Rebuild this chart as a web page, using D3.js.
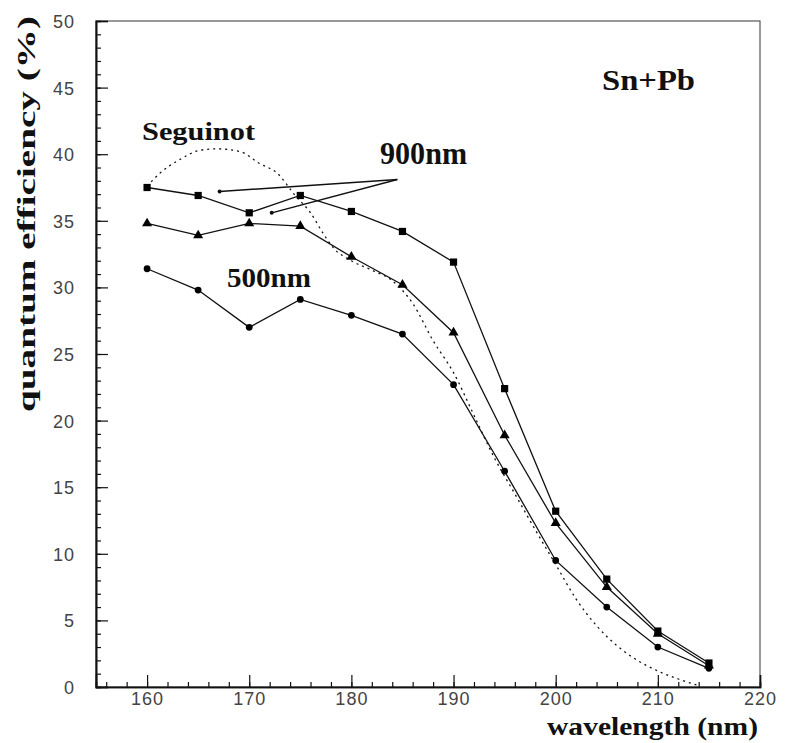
<!DOCTYPE html>
<html>
<head>
<meta charset="utf-8">
<script src="https://cdn.jsdelivr.net/npm/d3@7"></script>
<style>
  body { margin: 0; background: #fff; }
  svg { display: block; }
</style>
</head>
<body>
<svg id="chart"></svg>
<script>
// values (quantum efficiency in %)
const wavelengths = [160, 165, 170, 175, 180, 185, 190, 195, 200, 205, 210, 215];
const qeSquares   = [37.5, 36.9, 35.6, 36.9, 35.7, 34.2, 31.9, 22.4, 13.2, 8.1, 4.2, 1.8];
const qeTriangles = [34.8, 33.9, 34.8, 34.6, 32.3, 30.2, 26.6, 18.9, 12.3, 7.5, 4.0, 1.6];
const qeCircles   = [31.4, 29.8, 27.0, 29.1, 27.9, 26.5, 22.7, 16.2, 9.5, 6.0, 3.0, 1.4];

// Seguinot reference curve (dotted)
const seguinotWl = [160, 161.3, 163.2, 165.2, 166.8, 169.1, 171, 172.7, 174.5, 176, 177.2, 178.2, 180, 182, 184, 186, 188, 190, 192, 194, 196, 198, 200, 202, 204, 206, 208, 210, 212, 214];
const seguinotQe = [37.6, 38.6, 39.6, 40.3, 40.4, 40.2, 39.3, 38.6, 36.9, 35.6, 34.1, 33.0, 32.0, 31.3, 30.5, 28.8, 26.0, 23.6, 20.4, 17.2, 14.5, 11.8, 9.2, 6.6, 4.6, 3.1, 2.0, 1.2, 0.6, 0.1];

// 900nm annotation arrows: [from wl, from qe, to wl, to qe]
const arrowLines = [[184.5, 38.1, 167.1, 37.2], [184.5, 38.1, 172.2, 35.6]];

const xTicks = [160, 170, 180, 190, 200, 210, 220];
const yTicks = [0, 5, 10, 15, 20, 25, 30, 35, 40, 45, 50];

const width = 790;
const height = 743;

const svg = d3.select("#chart")
    .attr("width", width)
    .attr("height", height);

const x = d3.scaleLinear().domain([155, 220]).range([96, 760]);
const y = d3.scaleLinear().domain([0, 50]).range([687, 21]);

// frame
svg.append("rect")
    .attr("x", x(155)).attr("y", y(50))
    .attr("width", x(220) - x(155)).attr("height", y(0) - y(50))
    .attr("fill", "none")
    .attr("stroke", "#555")
    .attr("stroke-width", 1.2);

// y axis, ticks pointing inwards
const yMinor = svg.append("g")
    .attr("transform", `translate(${x(155)},0)`)
    .call(d3.axisLeft(y).tickValues(d3.range(0, 50, 1)).tickSize(-5).tickFormat(""));
const yMajor = svg.append("g")
    .attr("transform", `translate(${x(155)},0)`)
    .call(d3.axisLeft(y).tickValues(yTicks).tickSize(-12).tickPadding(21).tickFormat(d3.format("d")));

// x axis
const xMinor = svg.append("g")
    .attr("transform", `translate(0,${y(0)})`)
    .call(d3.axisBottom(x).tickValues(d3.range(156, 220, 2)).tickSize(-5).tickFormat(""));
const xMajor = svg.append("g")
    .attr("transform", `translate(0,${y(0)})`)
    .call(d3.axisBottom(x).tickValues(xTicks).tickSize(-12).tickPadding(5).tickFormat(d3.format("d")));

[yMinor, yMajor, xMinor, xMajor].forEach(g => {
    g.select(".domain").attr("stroke", "#111").attr("stroke-width", 1.6);
    g.selectAll(".tick line").attr("stroke", "#111").attr("stroke-width", 1.2);
    g.selectAll(".tick text")
        .attr("fill", "#444")
        .style("font-family", "'Liberation Sans', Arial, sans-serif")
        .style("font-size", "18px")
        .style("letter-spacing", "1px");
});
yMajor.selectAll(".tick text").attr("dy", "0.36em");

// series
const line = d3.line()
    .x(d => x(d[0]))
    .y(d => y(d[1]));

const series = [
    { values: qeSquares, symbol: d3.symbolSquare, size: 52 },
    { values: qeTriangles, symbol: d3.symbolTriangle, size: 44 },
    { values: qeCircles, symbol: d3.symbolCircle, size: 36 }
];

// Seguinot dotted curve
svg.append("path")
    .datum(d3.zip(seguinotWl, seguinotQe))
    .attr("d", d3.line().x(d => x(d[0])).y(d => y(d[1])).curve(d3.curveMonotoneX))
    .attr("fill", "none")
    .attr("stroke", "#111")
    .attr("stroke-width", 1.3)
    .attr("stroke-dasharray", "2,4");

series.forEach(s => {
    const pts = d3.zip(wavelengths, s.values);
    svg.append("path")
        .datum(pts)
        .attr("d", line)
        .attr("fill", "none")
        .attr("stroke", "#111")
        .attr("stroke-width", 1.3);
    svg.append("g")
        .selectAll("path")
        .data(pts)
        .join("path")
        .attr("transform", d => `translate(${x(d[0])},${y(d[1])})`)
        .attr("d", d3.symbol().type(s.symbol).size(s.size))
        .attr("fill", "#000");
});

// annotation arrows
arrowLines.forEach(a => {
    svg.append("line")
        .attr("x1", x(a[0])).attr("y1", y(a[1]))
        .attr("x2", x(a[2])).attr("y2", y(a[3]))
        .attr("stroke", "#111")
        .attr("stroke-width", 1.4);
    svg.append("circle")
        .attr("cx", x(a[2])).attr("cy", y(a[3]))
        .attr("r", 2)
        .attr("fill", "#111");
});

// labels (regular serif is not available, so all labels use the bold face)
const serif = "'Liberation Serif', 'DejaVu Serif', serif";

function label(txt, px, py, size, len) {
    return svg.append("text")
        .attr("x", px).attr("y", py)
        .attr("textLength", len)
        .attr("lengthAdjust", "spacingAndGlyphs")
        .attr("font-family", serif)
        .attr("font-size", size)
        .attr("font-weight", "bold")
        .attr("fill", "#111")
        .text(txt);
}

label("Sn+Pb", 602, 90, 29, 93);
label("Seguinot", 142, 140, 26, 113);
label("900nm", 380, 164, 31, 87);
label("500nm", 227, 287, 28, 84);
label("wavelength (nm)", 547, 735, 26, 211);

svg.append("text")
    .attr("transform", "translate(35,412) rotate(-90)")
    .attr("textLength", 396)
    .attr("lengthAdjust", "spacingAndGlyphs")
    .attr("font-family", serif)
    .attr("font-size", 25)
    .attr("font-weight", "bold")
    .attr("fill", "#111")
    .text("quantum efficiency (%)");
</script>
</body>
</html>
